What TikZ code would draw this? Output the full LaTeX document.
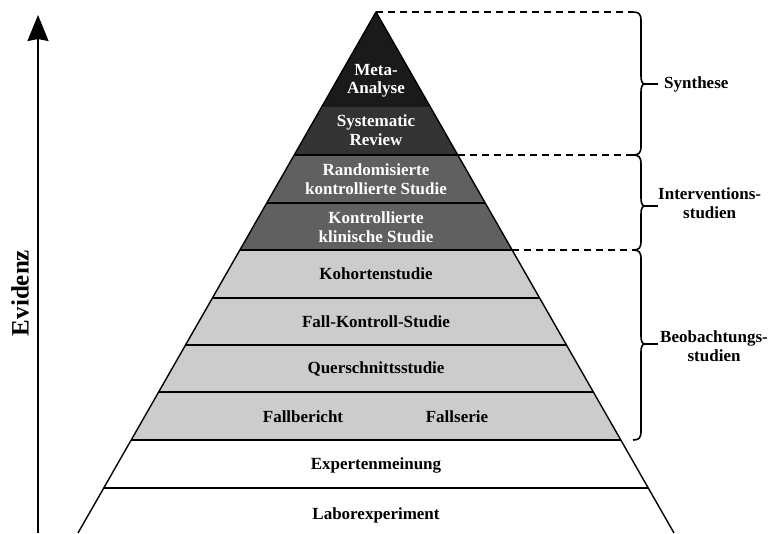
\documentclass[tikz,border=0pt]{standalone}
\usepackage{fontspec}
\setmainfont{Liberation Serif}
\usetikzlibrary{arrows.meta}
\definecolor{layA}{HTML}{1A1A1A}
\definecolor{layB}{HTML}{333333}
\definecolor{layC}{HTML}{606060}
\definecolor{layD}{HTML}{CCCCCC}
\newcommand\xLft[1]{376-0.572*(#1-12)}
\newcommand\xRgt[1]{376+0.572*(#1-12)}
\newcommand\bandfill[3]{\path[fill=#3] ({\xLft{#1}},#1) -- ({\xRgt{#1}},#1) -- ({\xRgt{#2}},#2) -- ({\xLft{#2}},#2) -- cycle;}
\newcommand\sepline[1]{\draw[pyr] ({\xLft{#1}},#1) -- ({\xRgt{#1}},#1);}
\newcommand\mybrace[3]{%
  \draw[brc] (633,#1) .. controls (639,#1) and (641,#1+2) .. (641,#1+9)
    -- (641,#2-8) .. controls (641,#2-3) and (642,#2) .. (645,#2)
    .. controls (642,#2) and (641,#2+3) .. (641,#2+8)
    -- (641,#3-9) .. controls (641,#3-2) and (639,#3) .. (633,#3);
  \draw[brc] (644,#2) -- (658,#2);}
\begin{document}
\begin{tikzpicture}[x=1pt,y=-1pt,
  pyr/.style={line width=1.4pt,black},
  brc/.style={line width=1.6pt,black},
  dsh/.style={line width=1.6pt,dash pattern=on 7pt off 5pt},
  lbl/.style={font=\bfseries\fontsize{17}{18.5}\selectfont,align=center,inner sep=0pt},
  wlbl/.style={lbl,text=white},
  side/.style={font=\bfseries\fontsize{17}{18.5}\selectfont,align=center,inner sep=0pt,anchor=west}]
\useasboundingbox (0,0) rectangle (783,533);
% layers
\path[fill=layA] (376,12) -- ({\xRgt{107}},107) -- ({\xLft{107}},107) -- cycle;
\bandfill{107}{155}{layB}
\bandfill{155}{250}{layC}
\bandfill{250}{440}{layD}
% outline
\coordinate (apex) at (376,12);
\coordinate (bl) at (78,533);
\coordinate (br) at (674,533);
\draw[pyr,line join=round] (bl) -- (apex) -- (br);
\sepline{155}\sepline{203}\sepline{250}\sepline{298}\sepline{345}\sepline{392}\sepline{440}\sepline{488}
% dashed
\coordinate (d1) at (633,12);
\coordinate (s2) at ({\xRgt{155}},155); \coordinate (d2) at (633,155);
\coordinate (s3) at ({\xRgt{250}},250); \coordinate (d3) at (633,250);
\draw[dsh] (apex) -- (d1);
\draw[dsh] (s2) -- (d2);
\draw[dsh] (s3) -- (d3);
% braces
\mybrace{12}{84}{155}
\mybrace{155}{206}{250}
\mybrace{250}{344}{440}
\node[side] (syn) at (664,84) {Synthese};
\node[side] (int) at (658,203) {Interventions-\\studien};
\node[side] (beo) at (660,346) {Beobachtungs-\\studien};
% texts
\node[wlbl] (meta) at (376,81) {Meta-\\Analyse};
\node[wlbl] (sr) at (376,130) {Systematic\\Review};
\node[wlbl] (rct) at (376,179) {Randomisierte\\kontrollierte Studie};
\node[wlbl] (kks) at (376,227) {Kontrollierte\\klinische Studie};
\node[lbl] (koh) at (376,274) {Kohortenstudie};
\node[lbl] (fk) at (376,322) {Fall-Kontroll-Studie};
\node[lbl] (qs) at (376,369) {Querschnittsstudie};
\node[lbl] (fb) at (303,417) {Fallbericht};
\node[lbl] (fs) at (457,417) {Fallserie};
\node[lbl] (exp) at (376,465) {Expertenmeinung};
\node[lbl] (lab) at (376,515) {Laborexperiment};
% evidence axis
\coordinate (ab) at (38,533);
\coordinate (at) at (38,15);
\draw[line width=1.8pt,-{Stealth[length=26pt,width=21pt,inset=2pt]}] (ab) -- (at);
\node[font=\bfseries\fontsize{25}{27}\selectfont,rotate=90,inner sep=0pt] (ev) at (20,293) {Evidenz};
\end{tikzpicture}
\end{document}
